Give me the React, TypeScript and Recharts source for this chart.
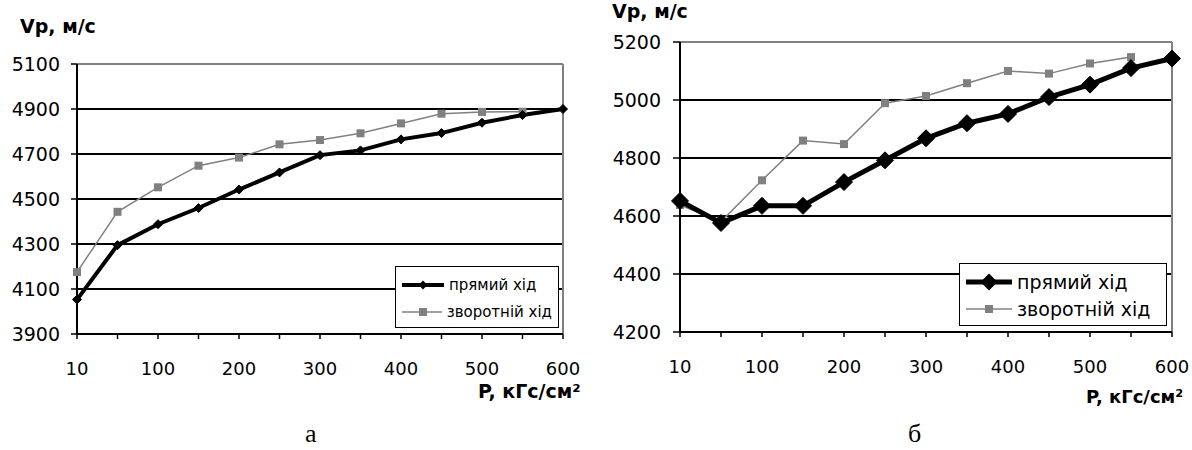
import React from 'react';
import { LineChart, Line, XAxis, YAxis, CartesianGrid, ReferenceLine, Legend } from 'recharts';

const pressures = [10, 50, 100, 150, 200, 250, 300, 350, 400, 450, 500, 550, 600];
const xTickLabels = ['10', '100', '200', '300', '400', '500', '600'];
const seriesNames = ['прямий хід', 'зворотній хід'];

const forwardA = [4053, 4295, 4388, 4460, 4542, 4618, 4695, 4716, 4765, 4793, 4839, 4873, 4900];
const reverseA = [4175, 4443, 4552, 4648, 4684, 4743, 4762, 4792, 4836, 4879, 4887, 4888, null];
const ticksA = [3900, 4100, 4300, 4500, 4700, 4900, 5100];

const forwardB = [4652, 4576, 4635, 4635, 4717, 4792, 4868, 4920, 4952, 5010, 5053, 5110, 5143];
const reverseB = [4638, 4581, 4723, 4860, 4848, 4989, 5014, 5058, 5100, 5091, 5126, 5148, null];
const ticksB = [4200, 4400, 4600, 4800, 5000, 5200];

const FONT = '"DejaVu Sans", "Liberation Sans", Arial, sans-serif';
const GREY = '#808080';

const buildData = (fwd: (number | null)[], rev: (number | null)[]) =>
  pressures.map((p, i) => ({ p, fwd: fwd[i], rev: rev[i] }));

const makeDiamond = (r: number) => (props: any) => {
  const { cx, cy, index } = props;
  if (cx == null || cy == null || props.value == null) return <g key={`d${index}`} />;
  return (
    <polygon
      key={`d${index}`}
      points={`${cx},${cy - r} ${cx + r},${cy} ${cx},${cy + r} ${cx - r},${cy}`}
      fill="#000"
      stroke="#000"
    />
  );
};

const makeSquare = (s: number) => (props: any) => {
  const { cx, cy, index } = props;
  if (cx == null || cy == null || props.value == null) return <g key={`s${index}`} />;
  return <rect key={`s${index}`} x={cx - s / 2} y={cy - s / 2} width={s} height={s} fill={GREY} />;
};

const XTick = (props: any) => {
  const { x, y, payload } = props;
  const label = String(payload.value);
  if (!xTickLabels.includes(label)) return <g />;
  return (
    <text x={x} y={y} dy="0.71em" textAnchor="middle" fontSize={18} fill="#000" fontFamily={FONT}>
      {label}
    </text>
  );
};

const YTick = (props: any) => {
  const { x, y, payload } = props;
  return (
    <text x={x} y={y} dy="0.36em" textAnchor="end" fontSize={19} fill="#000" fontFamily={FONT}>
      {String(payload.value)}
    </text>
  );
};

type PanelProps = {
  left: number;
  width: number;
  height: number;
  margin: { top: number; right: number; left: number; bottom: number };
  data: any[];
  domain: [number, number];
  ticks: number[];
  yTickSize: number;
  yTickMargin: number;
  lineWidth: number;
  diamondR: number;
  square: number;
  legend: { left: number; top: number; width: number; height: number; fontSize: number; sample: number; rowH: number };
};

const Panel = (p: PanelProps) => {
  const legendContent = () => (
    <div
      style={{
        width: p.legend.width,
        height: p.legend.height,
        border: '1.5px solid #000',
        background: '#fff',
        boxSizing: 'border-box',
        fontFamily: FONT,
        fontSize: p.legend.fontSize,
        padding: '4px 6px',
      }}
    >
      {seriesNames.map((name, i) => (
        <div key={name} style={{ display: 'flex', alignItems: 'center', height: p.legend.rowH }}>
          <svg width={p.legend.sample} height={20} style={{ marginRight: 5 }}>
            {i === 0 ? (
              <>
                <line x1={0} y1={10} x2={p.legend.sample} y2={10} stroke="#000" strokeWidth={p.lineWidth} />
                <polygon
                  points={`${p.legend.sample / 2},${10 - p.diamondR} ${p.legend.sample / 2 + p.diamondR},10 ${p.legend.sample / 2},${10 + p.diamondR} ${p.legend.sample / 2 - p.diamondR},10`}
                  fill="#000"
                />
              </>
            ) : (
              <>
                <line x1={0} y1={10} x2={p.legend.sample} y2={10} stroke={GREY} strokeWidth={1.5} />
                <rect x={p.legend.sample / 2 - p.square / 2} y={10 - p.square / 2} width={p.square} height={p.square} fill={GREY} />
              </>
            )}
          </svg>
          <span style={{ whiteSpace: 'nowrap', color: '#000' }}>{name}</span>
        </div>
      ))}
    </div>
  );

  return (
    <div style={{ position: 'absolute', left: p.left, top: 0 }}>
      <LineChart width={p.width} height={p.height} data={p.data} margin={p.margin}>
        <CartesianGrid vertical={false} stroke="#000" strokeWidth={2} strokeOpacity={1} />
        <XAxis
          dataKey="p"
          type="category"
          interval={0}
          height={46}
          tick={XTick}
          tickSize={5}
          tickMargin={23}
          axisLine={{ stroke: '#000', strokeWidth: 2 }}
          tickLine={{ stroke: '#000', strokeWidth: 1.5 }}
        />
        <YAxis
          domain={p.domain}
          ticks={p.ticks}
          type="number"
          width={60}
          interval={0}
          tickSize={p.yTickSize}
          tickMargin={p.yTickMargin}
          tick={YTick}
          axisLine={{ stroke: '#000', strokeWidth: 2 }}
          tickLine={{ stroke: '#000', strokeWidth: 1.5 }}
        />
        <ReferenceLine y={p.domain[1]} stroke={GREY} strokeWidth={2} />
        <ReferenceLine x={600} stroke={GREY} strokeWidth={2} />
        <Legend
          layout="horizontal"
          verticalAlign="middle"
          align="center"
          content={legendContent}
          wrapperStyle={{ left: p.legend.left, top: p.legend.top, width: p.legend.width, height: p.legend.height }}
        />
        <Line
          dataKey="rev"
          stroke={GREY}
          strokeWidth={1.5}
          dot={makeSquare(p.square)}
          isAnimationActive={false}
          connectNulls={false}
          name={seriesNames[1]}
        />
        <Line
          dataKey="fwd"
          stroke="#000"
          strokeWidth={p.lineWidth}
          dot={makeDiamond(p.diamondR)}
          isAnimationActive={false}
          name={seriesNames[0]}
        />
      </LineChart>
    </div>
  );
};

const textStyle = (left: number, top: number, size: number, bold = true): React.CSSProperties => ({
  position: 'absolute',
  left,
  top,
  fontSize: size,
  fontWeight: bold ? 'bold' : 'normal',
  fontFamily: FONT,
  color: '#000',
  whiteSpace: 'nowrap',
  lineHeight: 1,
});

export default function App() {
  return (
    <div style={{ position: 'absolute', left: 0, top: 0, width: 1192, height: 450, background: '#fff', overflow: 'hidden' }}>
      <Panel
        left={0}
        width={600}
        height={380}
        margin={{ top: 64, right: 37, left: 17, bottom: 0 }}
        data={buildData(forwardA, reverseA)}
        domain={[3900, 5100]}
        ticks={ticksA}
        yTickSize={6}
        yTickMargin={11}
        lineWidth={4}
        diamondR={4.5}
        square={8}
        legend={{ left: 395, top: 266, width: 164, height: 62, fontSize: 15, sample: 42, rowH: 27 }}
      />
      <Panel
        left={590}
        width={602}
        height={378}
        margin={{ top: 42, right: 20, left: 30, bottom: 0 }}
        data={buildData(forwardB, reverseB)}
        domain={[4200, 5200]}
        ticks={ticksB}
        yTickSize={7}
        yTickMargin={12}
        lineWidth={5}
        diamondR={8.5}
        square={8}
        legend={{ left: 369, top: 263, width: 208, height: 63, fontSize: 19, sample: 46, rowH: 27 }}
      />
      <div style={textStyle(20, 17, 19)}>Vp, м/с</div>
      <div style={textStyle(612, 2, 19)}>Vp, м/с</div>
      <div style={textStyle(478, 382, 19)}>P, кГс/см²</div>
      <div style={textStyle(1086, 388, 18)}>P, кГс/см²</div>
      <div style={{ ...textStyle(305, 421, 26, false), fontFamily: '"Liberation Serif", "DejaVu Serif", serif' }}>а</div>
      <div style={{ ...textStyle(908, 421, 26, false), fontFamily: '"Liberation Serif", "DejaVu Serif", serif' }}>б</div>
    </div>
  );
}
